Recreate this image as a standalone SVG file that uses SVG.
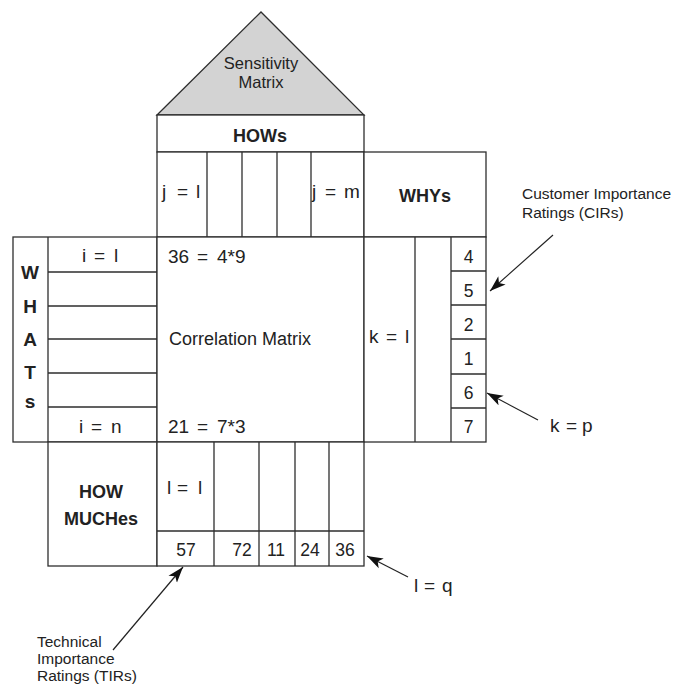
<svg xmlns="http://www.w3.org/2000/svg" width="688" height="685" viewBox="0 0 688 685">
<style>
.ln{fill:none;stroke:#2e2e2e;stroke-width:1.3}
.bx{fill:#fff;stroke:#2e2e2e;stroke-width:1.3}
.roof{fill:#d3d3d3;stroke:#2e2e2e;stroke-width:1.3}
.t{font-family:"Liberation Sans",Arial,sans-serif;fill:#222;font-size:18px}
.e{font-size:19px}
.b{font-family:"Liberation Sans",Arial,sans-serif;font-weight:bold;font-size:18px;fill:#222;text-anchor:middle}
.w{font-size:19px}
.m{text-anchor:middle}
.n{font-size:17.5px}
.s{font-size:16.5px}
.a{font-size:15.5px}
.c{stroke:#222;stroke-width:1.2;fill:none}
</style>
<defs>
<marker id="ah" markerUnits="userSpaceOnUse" markerWidth="18" markerHeight="12" refX="16" refY="6" orient="auto" viewBox="0 0 18 12">
<path d="M0,0.5 L16,6 L0,11.5 L4,6 z" fill="#111"/>
</marker>
</defs>

<g id="sensitivity-matrix">
<polygon class="roof" points="157,115 261,12 364,115"/>
<text class="t s m" x="261" y="69">Sensitivity</text>
<text class="t s m" x="261" y="88">Matrix</text>
</g>

<g id="hows">
<rect class="bx" x="157" y="115" width="207" height="37"/>
<text class="b" x="260" y="142">HOWs</text>
</g>

<g id="how-columns">
<rect class="bx" x="157" y="152" width="207" height="85"/>
<path class="ln" d="M207,152V237M242,152V237M277,152V237M311,152V237"/>
<text class="t e" y="198"><tspan x="162">j</tspan><tspan x="177">=</tspan><tspan x="196">l</tspan></text>
<text class="t e" y="198"><tspan x="312">j</tspan><tspan x="325">=</tspan><tspan x="344">m</tspan></text>
</g>

<g id="whys">
<rect class="bx" x="364" y="152" width="122" height="85"/>
<text class="b" x="425" y="202">WHYs</text>
</g>

<g id="whats">
<rect class="bx" x="13" y="237" width="144" height="205"/>
<path class="ln" d="M48,237V442M48,272H157M48,306H157M48,339H157M48,373H157M48,407H157"/>
<text class="b w" x="30" y="279">W</text>
<text class="b w" x="30" y="313">H</text>
<text class="b w" x="30" y="346">A</text>
<text class="b w" x="30" y="379">T</text>
<text class="b w" x="30" y="408">s</text>
<text class="t e" y="262"><tspan x="82">i</tspan><tspan x="94">=</tspan><tspan x="114">l</tspan></text>
<text class="t e" y="433"><tspan x="79">i</tspan><tspan x="91">=</tspan><tspan x="111">n</tspan></text>
</g>

<g id="correlation-matrix">
<rect class="bx" x="157" y="237" width="207" height="205"/>
<text class="t e" y="263"><tspan x="168">36</tspan><tspan x="197">=</tspan><tspan x="217">4*9</tspan></text>
<text class="t" x="169" y="345">Correlation Matrix</text>
<text class="t e" y="433"><tspan x="168">21</tspan><tspan x="197">=</tspan><tspan x="217">7*3</tspan></text>
</g>

<g id="why-matrix">
<rect class="bx" x="364" y="237" width="122" height="205"/>
<path class="ln" d="M415,237V442M451,237V442M451,271H486M451,305H486M451,339H486M451,374H486M451,408H486"/>
<text class="t e" y="343"><tspan x="369">k</tspan><tspan x="386">=</tspan><tspan x="405">l</tspan></text>
</g>

<g id="cirs">
<text class="t n m" x="468.5" y="263">4</text>
<text class="t n m" x="468.5" y="297">5</text>
<text class="t n m" x="468.5" y="331">2</text>
<text class="t n m" x="468.5" y="365">1</text>
<text class="t n m" x="468.5" y="399">6</text>
<text class="t n m" x="468.5" y="433">7</text>
</g>

<g id="how-muches">
<rect class="bx" x="48" y="442" width="109" height="124"/>
<text class="b" x="101" y="498">HOW</text>
<text class="b" x="101" y="525">MUCHes</text>
</g>

<g id="how-much-matrix">
<rect class="bx" x="157" y="442" width="207" height="124"/>
<path class="ln" d="M214,442V566M259,442V566M295,442V566M329,442V566M157,531H364"/>
<text class="t e" y="494"><tspan x="167">l</tspan><tspan x="177">=</tspan><tspan x="198">l</tspan></text>
</g>

<g id="tirs">
<text class="t n m" x="186" y="556">57</text>
<text class="t n m" x="242" y="556">72</text>
<text class="t n m" x="276" y="556">11</text>
<text class="t n m" x="310" y="556">24</text>
<text class="t n m" x="345" y="556">36</text>
</g>

<g id="annotations">
<text class="t a" x="522" y="199">Customer Importance</text>
<text class="t a" x="522" y="218">Ratings (CIRs)</text>
<text class="t e" y="432"><tspan x="550">k</tspan><tspan x="566">=</tspan><tspan x="582">p</tspan></text>
<text class="t e" y="592"><tspan x="414">l</tspan><tspan x="424">=</tspan><tspan x="442">q</tspan></text>
<text class="t a" x="37" y="647">Technical</text>
<text class="t a" x="37" y="664">Importance</text>
<text class="t a" x="37" y="681">Ratings (TIRs)</text>
</g>

<g id="connectors">
<path class="c" d="M553,235L490,291" marker-end="url(#ah)"/>
<path class="c" d="M538,420L487,393" marker-end="url(#ah)"/>
<path class="c" d="M408,577L367,556" marker-end="url(#ah)"/>
<path class="c" d="M113,650L183,567" marker-end="url(#ah)"/>
</g>
</svg>
